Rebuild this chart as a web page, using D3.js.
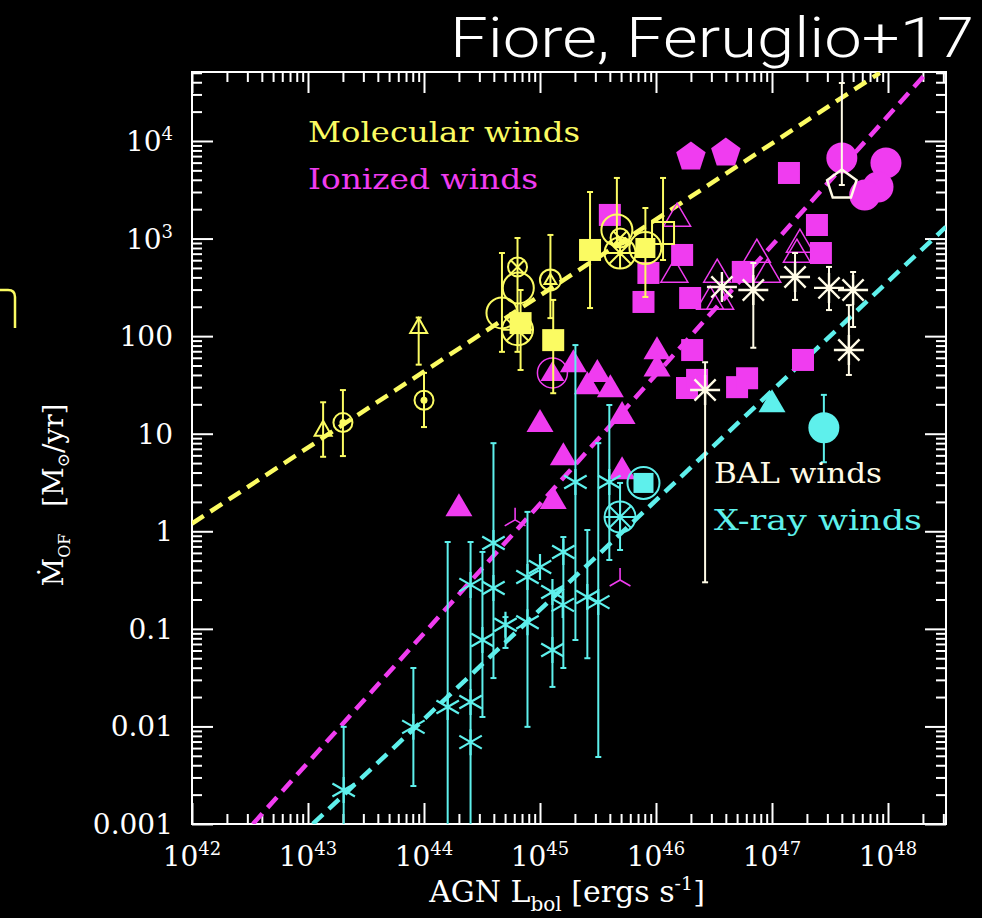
<!DOCTYPE html>
<html>
<head>
<meta charset="utf-8">
<script src="https://cdn.jsdelivr.net/npm/d3@7"></script>
<style>
  html, body { margin: 0; padding: 0; background: #000; }
  svg { display: block; }
</style>
</head>
<body>
<svg id="chart" width="982" height="918"></svg>
<script>
// ---------------- data ----------------
// Each row: [L_bol (erg/s), Mdot_OF (Msun/yr), symbol, error low, error high]
const molecular = [
  [1.35e43, 11,   "triS",  5.8,  21],
  [2.0e43,  13,   "cdot",  5.9,  28],
  [9.0e43,  124,  "triS",  51,   155],
  [1.0e44,  22,   "cdot",  11.7, 42],
  [4.7e44,  173,  "cbig",  69,   711],
  [6.5e44,  312,  "cbig"],
  [6.4e44,  512,  "cx",    69,   1014],
  [6.4e44,  116,  "wheel"],
  [6.8e44,  136,  "sq",    45,   297],
  [1.23e45, 377,  "ctri",  153,  1089],
  [1.3e45,  91,   "sq",    26,   235],
  [2.7e45,  764,  "sq",    194,  3000],
  [4.6e45,  1225, "cbig",  820,  4180],
  [4.9e45,  1014, "cx"],
  [4.9e45,  711,  "wheel"],
  [8.1e45,  800,  "sqc",   252,  2056],
  [1.15e46, 1140, "sqo",   603,  4180]
];

const ionized = [
  [2.0e44,  1.77, "tri"],
  [1.0e45,  12.9, "tri"],
  [1.3e45,  2.1,  "tri"],
  [1.59e45, 5.9,  "tri"],
  [1.94e45, 53,   "tri"],
  [2.56e45, 31.5, "tri"],
  [3.12e45, 42,   "tri"],
  [4.04e45, 29.4, "tri"],
  [5.1e45,  15.6, "tri"],
  [5.1e45,  4.25, "tri"],
  [1.02e46, 72,   "tri"],
  [1.02e46, 48,   "tri"],
  [1.28e45, 42,   "ctriF"],
  [4.0e45,  1746, "sq"],
  [8.6e45,  444,  "sq"],
  [1.68e46, 679,  "sq"],
  [7.8e45,  224,  "sq"],
  [1.97e46, 246,  "sq"],
  [5.6e46,  455,  "sq"],
  [2.44e47, 1377, "sq"],
  [2.64e47, 711,  "sq"],
  [1.4e47,  4700, "sq"],
  [1.85e46, 29.4, "sq"],
  [2.26e46, 35.6, "sq"],
  [5.0e46,  30,   "sq"],
  [6.1e46,  37,   "sq"],
  [2.05e46, 72,   "sq"],
  [1.85e47, 57,   "sq"],
  [2.0e46,  6850, "pent"],
  [4.0e46,  7530, "pent"],
  [4.0e47,  6700, "circ"],
  [9.6e47,  5960, "circ"],
  [8.2e47,  3380, "circ"],
  [6.3e47,  2800, "circ"],
  [1.52e46, 1663, "triO"],
  [1.44e46, 444,  "triO"],
  [3.37e46, 444,  "triO"],
  [7.4e46,  711,  "triO"],
  [9.1e46,  444,  "triO"],
  [1.64e47, 711,  "triO"],
  [1.74e47, 902,  "triO"],
  [2.93e46, 235,  "triO"],
  [3.57e46, 235,  "triO"],
  [6.1e44,  1.31, "tri3"],
  [4.9e45,  0.317,"tri3"]
];

const bal = [
  [3.7e46,  319,  "ast8"],
  [6.9e46,  297,  "ast8", 76,   562],
  [1.58e47, 404,  "ast8", 235,  711],
  [3.1e47,  312,  "ast8", 185,  512],
  [5.0e47,  297,  "ast8", 124,  454],
  [4.6e47,  72,   "ast8", 40,   208],
  [2.65e46, 28,   "ast8", 0.30, 54],
  [4.0e47,  3540, "pentO", 3540, 39300]
];

const xray = [
  [2.03e43, 0.00223, "ast6", 1e-4,   0.0099],
  [8.1e43,  0.0099,  "ast6", 0.00245, 0.0397],
  [1.6e44,  0.0158,  "ast6", 1e-4,   0.776],
  [2.52e44, 0.282,   "ast6"],
  [2.52e44, 0.0178,  "ast6"],
  [2.52e44, 0.0069,  "ast6", 1e-4,   0.776],
  [3.19e44, 0.0769,  "ast6", 0.0125, 0.614],
  [3.97e44, 0.262,   "ast6", 0.0313, 8.0],
  [3.97e44, 0.759,   "ast6"],
  [5.04e44, 0.11,    "ast6", 0.0637, 0.132],
  [7.8e44,  0.34,    "ast6", 0.0099, 1.58],
  [7.8e44,  0.117,   "ast6"],
  [1.0e45,  0.43,    "ast6"],
  [1.28e45, 0.0607,  "ast6", 0.0254, 0.239],
  [1.28e45, 0.239,   "ast6"],
  [1.59e45, 0.614,   "ast6", 0.0397, 0.873],
  [1.57e45, 0.176,   "ast6"],
  [2.02e45, 3.2,     "ast6", 0.0769, 81],
  [2.56e45, 0.212,   "ast6", 0.050,  1.03],
  [3.18e45, 0.188,   "ast6", 0.00486, 8.0],
  [3.96e45, 3.2,     "ast6", 0.508,  19.7],
  [1.0e47,  20.6,    "tri"],
  [2.8e47,  11.5,    "circ", 5.1,    25],
  [7.8e45,  3.13,    "sqc"],
  [4.9e45,  1.4,     "wheel", 0.643, 3.13]
];

// Best-fit relations, given by their two end points [L_bol, Mdot]
const fitMolecular = [[1e42, 1.2], [8.5e47, 5.0e4]];
const fitIonized   = [[3.35e42, 1e-3], [2.19e48, 5.1e4]];
const fitXray      = [[1.1e43, 1e-3], [3.16e48, 1.32e3]];

const xExponents  = ["42", "43", "44", "45", "46", "47", "48"];
const yTickLabels = ["0.001", "0.01", "0.1", "1", "10", "100", "10^3", "10^4"];

const colors = {
  molecular: "#fbfb62",
  ionized:   "#f03cf0",
  bal:       "#fffbe6",
  xray:      "#5ef0ec"
};

// ---------------- layout ----------------
const svg = d3.select("#chart");
const frame = { left: 192, right: 946, top: 72, bottom: 824 };
const serif = "'DejaVu Serif', 'Liberation Serif', serif";

svg.append("rect").attr("width", 982).attr("height", 918).attr("fill", "#000");

const x = d3.scaleLog().domain([1e42, Math.pow(10, 48.5)]).range([frame.left, frame.right]);
const y = d3.scaleLog().domain([1e-3, Math.pow(10, 4.707)]).range([frame.bottom, frame.top]);

svg.append("defs").append("clipPath").attr("id", "plotClip")
  .append("rect")
  .attr("x", frame.left).attr("y", frame.top)
  .attr("width", frame.right - frame.left).attr("height", frame.bottom - frame.top);

// ---------------- axes (inward ticks on all four sides) ----------------
const isDecade = v => Math.abs(Math.log10(v) - Math.round(Math.log10(v))) < 1e-9;
const xt = x.ticks(), yt = y.ticks();
const xMajor = xt.filter(isDecade), xMinor = xt.filter(v => !isDecade(v));
const yMajor = yt.filter(isDecade), yMinor = yt.filter(v => !isDecade(v));
const MAJ = 21, MIN = 10;

function styleAxis(g) {
  g.select(".domain").remove();
  g.selectAll(".tick line").attr("stroke", "#fff").attr("stroke-width", 2);
  g.selectAll(".tick text").remove();
}
const axes = svg.append("g");
[[xMajor, MAJ], [xMinor, MIN]].forEach(([vals, len]) => {
  axes.append("g").attr("transform", `translate(0,${frame.bottom})`)
    .call(d3.axisBottom(x).tickValues(vals).tickSize(-len)).call(styleAxis);
  axes.append("g").attr("transform", `translate(0,${frame.top})`)
    .call(d3.axisTop(x).tickValues(vals).tickSize(-len)).call(styleAxis);
});
[[yMajor, MAJ], [yMinor, MIN]].forEach(([vals, len]) => {
  axes.append("g").attr("transform", `translate(${frame.left},0)`)
    .call(d3.axisLeft(y).tickValues(vals).tickSize(-len)).call(styleAxis);
  axes.append("g").attr("transform", `translate(${frame.right},0)`)
    .call(d3.axisRight(y).tickValues(vals).tickSize(-len)).call(styleAxis);
});

svg.append("rect")
  .attr("x", frame.left).attr("y", frame.top)
  .attr("width", frame.right - frame.left).attr("height", frame.bottom - frame.top)
  .attr("fill", "none").attr("stroke", "#fff").attr("stroke-width", 2);

// tick labels
xMajor.forEach((v, i) => {
  const t = svg.append("text")
    .attr("x", x(v)).attr("y", 866)
    .attr("text-anchor", "middle")
    .attr("font-family", serif).attr("font-size", 28).attr("fill", "#fff");
  t.append("tspan").text("10");
  t.append("tspan").attr("dy", -11).attr("font-size", 18).text(xExponents[i]);
});
yMajor.forEach((v, i) => {
  const parts = yTickLabels[i].split("^");
  const t = svg.append("text")
    .attr("x", 173).attr("y", y(v) + 10)
    .attr("text-anchor", "end")
    .attr("font-family", serif).attr("font-size", 28).attr("fill", "#fff");
  t.append("tspan").text(parts[0]);
  if (parts[1]) t.append("tspan").attr("dy", -11).attr("font-size", 18).text(parts[1]);
});

// axis titles
const xt1 = svg.append("text")
  .attr("x", 567).attr("y", 902).attr("text-anchor", "middle")
  .attr("font-family", serif).attr("font-size", 30).attr("fill", "#fff");
xt1.append("tspan").text("AGN L");
xt1.append("tspan").attr("dy", 9).attr("font-size", 20).text("bol");
xt1.append("tspan").attr("dy", -9).text("\u00a0[ergs s");
xt1.append("tspan").attr("dy", -12).attr("font-size", 19).text("-1");
xt1.append("tspan").attr("dy", 12).text("]");

const yt1 = svg.append("text")
  .attr("transform", "translate(63,495) rotate(-90)")
  .attr("text-anchor", "middle")
  .attr("font-family", serif).attr("font-size", 28).attr("fill", "#fff");
yt1.append("tspan").text("Ṁ");
yt1.append("tspan").attr("dy", 7).attr("font-size", 16).text("OF");
yt1.append("tspan").attr("dy", -7).text("\u00a0\u00a0\u00a0[M");
yt1.append("tspan").attr("dy", 6).attr("font-size", 17).text("⊙");
yt1.append("tspan").attr("dy", -6).text("/yr]");

// ---------------- fit lines ----------------
const plot = svg.append("g").attr("clip-path", "url(#plotClip)");
const line = d3.line().x(d => x(d[0])).y(d => y(d[1]));
[[fitMolecular, colors.molecular], [fitIonized, colors.ionized], [fitXray, colors.xray]]
  .forEach(([pts, c]) => {
    plot.append("path").attr("d", line(pts))
      .attr("fill", "none").attr("stroke", c)
      .attr("stroke-width", 4.5).attr("stroke-dasharray", "14,8");
  });

// ---------------- symbols ----------------
function star(n, r, start) {
  let d = "";
  for (let k = 0; k < n; k++) {
    const a = (start + k * 360 / n) * Math.PI / 180;
    d += `M0,0L${(r * Math.cos(a)).toFixed(2)},${(r * Math.sin(a)).toFixed(2)}`;
  }
  return d;
}
function poly(n, r, start) {
  const pts = [];
  for (let k = 0; k < n; k++) {
    const a = (start + k * 360 / n) * Math.PI / 180;
    pts.push([r * Math.cos(a), r * Math.sin(a)]);
  }
  return "M" + pts.map(p => p[0].toFixed(2) + "," + p[1].toFixed(2)).join("L") + "Z";
}
function triPath(w, h) {
  return `M0,${-h * 0.6}L${w / 2},${h * 0.4}L${-w / 2},${h * 0.4}Z`;
}

function drawSymbol(g, sym, c) {
  const stroke = (sel, w) => sel.attr("fill", "none").attr("stroke", c).attr("stroke-width", w || 2);
  switch (sym) {
    case "sq":
      g.append("rect").attr("x", -11).attr("y", -11).attr("width", 22).attr("height", 22).attr("fill", c); break;
    case "sqo":
      stroke(g.append("rect").attr("x", -11).attr("y", -11).attr("width", 22).attr("height", 22)); break;
    case "sqc":
      g.append("rect").attr("x", -10).attr("y", -10).attr("width", 20).attr("height", 20).attr("fill", c);
      stroke(g.append("circle").attr("r", 16)); break;
    case "tri":
      g.append("path").attr("d", triPath(27, 23)).attr("fill", c); break;
    case "triO":
      stroke(g.append("path").attr("d", triPath(27, 23)), 1.5); break;
    case "triS":
      stroke(g.append("path").attr("d", triPath(17, 15))); break;
    case "cdot":
      stroke(g.append("circle").attr("r", 9.5));
      g.append("circle").attr("r", 3.5).attr("fill", c); break;
    case "cbig":
      stroke(g.append("circle").attr("r", 15.5)); break;
    case "cx":
      stroke(g.append("circle").attr("r", 9.5));
      stroke(g.append("path").attr("d", star(4, 9.5, 45))); break;
    case "wheel":
      stroke(g.append("circle").attr("r", 15.5));
      stroke(g.append("path").attr("d", star(8, 15.5, 90))); break;
    case "ctri":
      stroke(g.append("circle").attr("r", 10.5));
      stroke(g.append("path").attr("d", triPath(12, 10))); break;
    case "ctriF":
      stroke(g.append("circle").attr("r", 15), 1.5);
      g.append("path").attr("d", triPath(24, 20)).attr("fill", c); break;
    case "pent":
      g.append("path").attr("d", poly(5, 15.5, -90)).attr("fill", c); break;
    case "pentO":
      stroke(g.append("path").attr("d", poly(5, 15.5, -90)), 2.5); break;
    case "circ":
      g.append("circle").attr("r", 15.5).attr("fill", c); break;
    case "ast6":
      stroke(g.append("path").attr("d", star(6, 13, 30)), 2.2); break;
    case "ast8":
      stroke(g.append("path").attr("d", star(8, 15, 0)), 2.4); break;
    case "tri3":
      stroke(g.append("path").attr("d", star(3, 12, -90)), 1.6); break;
  }
}

function drawSeries(rows, c) {
  const grp = plot.append("g");
  // error bars underneath the markers
  rows.filter(r => r[3] != null).forEach(r => {
    const cx = x(r[0]), y0 = y(r[3]), y1 = y(r[4]);
    const eb = grp.append("g").attr("stroke", c).attr("stroke-width", 2);
    eb.append("line").attr("x1", cx).attr("x2", cx).attr("y1", y0).attr("y2", y1);
    eb.append("line").attr("x1", cx - 3).attr("x2", cx + 3).attr("y1", y0).attr("y2", y0);
    eb.append("line").attr("x1", cx - 3).attr("x2", cx + 3).attr("y1", y1).attr("y2", y1);
  });
  rows.forEach(r => {
    const g = grp.append("g").attr("transform", `translate(${x(r[0])},${y(r[1])})`);
    drawSymbol(g, r[2], c);
  });
}

drawSeries(ionized, colors.ionized);
drawSeries(molecular, colors.molecular);
drawSeries(xray, colors.xray);
drawSeries(bal, colors.bal);

// ---------------- legend labels ----------------
const legend = [
  ["Molecular winds", colors.molecular, 308, 142, 272],
  ["Ionized winds",   colors.ionized,   308, 189, 230],
  ["BAL winds",       colors.bal,       714, 483, 168],
  ["X-ray winds",     colors.xray,      714, 530, 208]
];
legend.forEach(([t, c, lx, ly, w]) => {
  svg.append("text").attr("x", lx).attr("y", ly)
    .attr("font-family", serif).attr("font-size", 28).attr("fill", c)
    .attr("textLength", w).attr("lengthAdjust", "spacingAndGlyphs")
    .text(t);
});

// ---------------- heading ----------------
svg.append("text")
  .attr("x", 450).attr("y", 57)
  .attr("font-family", "Roboto, 'Open Sans', Lato, sans-serif")
  .attr("font-weight", 300).attr("font-size", 56).attr("fill", "#fff")
  .attr("textLength", 524).attr("lengthAdjust", "spacingAndGlyphs")
  .text("Fiore, Feruglio+17");

// small yellow bracket at the left margin
svg.append("path")
  .attr("d", "M0,290 L8,290 Q15,290 15,297 L15,328")
  .attr("fill", "none").attr("stroke", colors.molecular).attr("stroke-width", 2.5);
</script>
</body>
</html>
